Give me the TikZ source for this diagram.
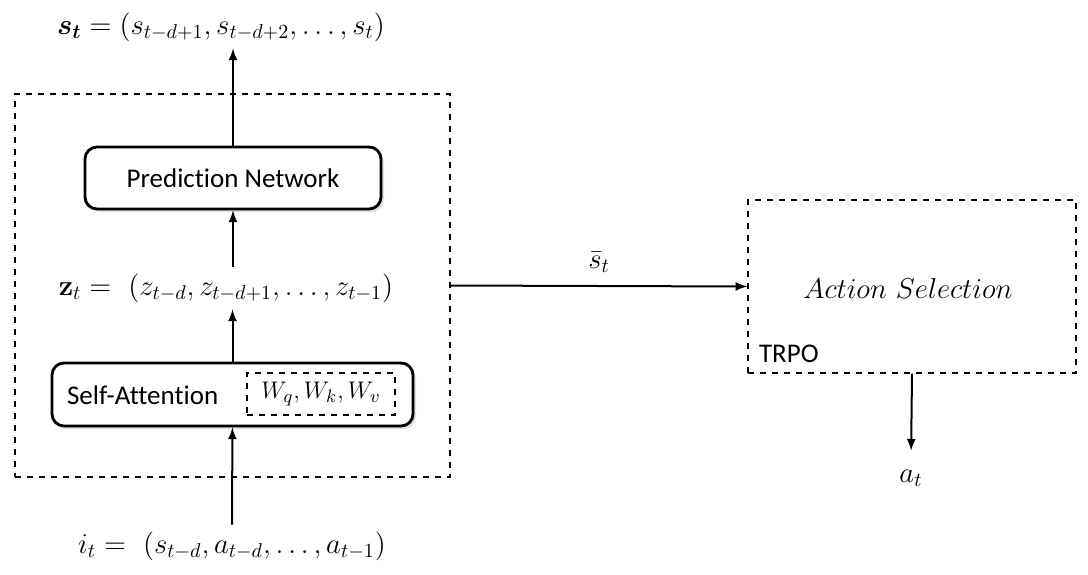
\documentclass[tikz,border=0pt]{standalone}
\usepackage{amsmath}
\usepackage{bm}
\usepackage[no-math]{fontspec}
\usepackage{tikz}
\usetikzlibrary{shapes.geometric, arrows, shadows}
\newfontfamily\calibri[Ligatures=NoCommon]{Carlito}
\tikzstyle{blk}   = [rectangle, rounded corners=6pt, draw, line width=1.4pt, fill=white,
drop shadow={shadow xshift=1.5pt, shadow yshift=-1.5pt, opacity=0.25},
font=\calibri\fontsize{13.5}{16}\selectfont]
\tikzstyle{dbox}  = [rectangle, draw, dashed, line width=0.7pt]
\tikzstyle{lbl}   = [font=\fontsize{14}{17}\selectfont]
\tikzstyle{arrow} = [->, >=latex, line width=1pt]

\begin{document}
\begin{tikzpicture}[x=0.5pt, y=-0.5pt]
      \useasboundingbox (0,0) rectangle (1088,574);
      % left block
      \node(Outer) [dbox, minimum width=217.5pt, minimum height=191.5pt] at (232.5,285.5) {};
      \node(Pn)    [blk, minimum width=148pt, minimum height=31pt] at (233,178) {Prediction Network};
      \node(Sa)    [blk, minimum width=180.5pt, minimum height=31.5pt] at (232.5,394.5) {};
      \node(SaTxt) [anchor=west, font=\calibri\fontsize{13.5}{16}\selectfont] at (60,395) {Self-Attention};
      \node(W)     [dbox, font=\fontsize{12.5}{15}\selectfont, inner sep=1pt,
                    minimum width=74pt, minimum height=21pt] at (321,394) {$W_q, W_k, W_v$};

      \node(St) [lbl] at (221,27)  {$\boldsymbol{s_t} = (s_{t-d+1}, s_{t-d+2}, \dots, s_t)$};
      \node(Zt) [lbl] at (226,288) {$\mathbf{z}_t =\ (z_{t-d}, z_{t-d+1}, \dots, z_{t-1})$};
      \node(It) [lbl] at (232,546) {$i_t =\ (s_{t-d}, a_{t-d}, \dots, a_{t-1})$};

      % right block
      \node(As)    [dbox, minimum width=164pt, minimum height=86.5pt] at (912,286.5) {};
      \node(AsTxt) [lbl] at (908,288) {$Action\ Selection$};
      \node(Trpo)  [anchor=west, font=\calibri\fontsize{13.5}{16}\selectfont] at (752,354) {TRPO};
      \node(At)    [lbl] at (911,478) {$a_t$};

      \draw [arrow] (It)       -- (Sa);
      \draw [arrow] (Sa.north) -- (Sa.north |- Zt.south);
      \draw [arrow] (Pn.south |- Zt.north) -- (Pn.south);
      \draw [arrow] (Pn.north) -- (Pn.north |- St.south);
      \draw [arrow] (Outer.east) -- node[lbl, above=3pt] {$\bar{s}_t$} (As.west);
      \draw [arrow, shorten >=6pt] (As.south) -- (At.north);
    \end{tikzpicture}
\end{document}
